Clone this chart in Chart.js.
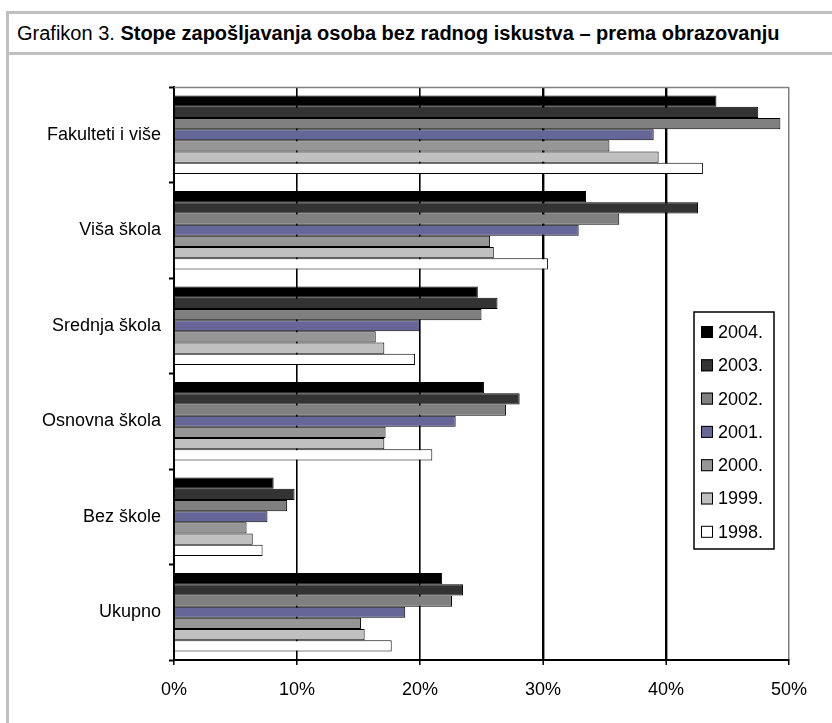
<!DOCTYPE html>
<html>
<head>
<meta charset="utf-8">
<script src="https://cdn.jsdelivr.net/npm/chart.js@4.4.0/dist/chart.umd.min.js"></script>
<style>
  html, body { margin: 0; padding: 0; background: #fff; }
  body { width: 832px; height: 723px; position: relative; overflow: hidden; }
  .line { position: absolute; background: #c0c0c0; }
  #title {
    position: absolute; left: 17px; top: 14px; height: 38px; line-height: 38px;
    font-family: "Liberation Sans", Arial, sans-serif; font-size: 20px; color: #000;
    white-space: nowrap;
  }
  #wrap { position: absolute; left: 0; top: 0; width: 832px; height: 723px; }
</style>
</head>
<body>
<div class="line" style="left:6px;top:11px;width:826px;height:3px"></div>
<div class="line" style="left:6px;top:11px;width:3px;height:712px"></div>
<div class="line" style="left:6px;top:52px;width:826px;height:3px"></div>
<div id="title">Grafikon 3. <b>Stope zapošljavanja osoba bez radnog iskustva – prema obrazovanju</b></div>
<div id="wrap"><canvas id="chart"></canvas></div>
<script>
// kategorije (odozgo prema dolje)
const categories = ["Fakulteti i više", "Viša škola", "Srednja škola", "Osnovna škola", "Bez škole", "Ukupno"];

// godine i boje serija
const years = ["2004.", "2003.", "2002.", "2001.", "2000.", "1999.", "1998."];
const colors = ["#000000", "#333333", "#808080", "#666699", "#969696", "#c0c0c0", "#ffffff"];

// stope u %, po godinama
const s2004 = [44.1, 33.5, 24.7, 25.2, 8.1, 21.8];
const s2003 = [47.5, 42.6, 26.3, 28.1, 9.8, 23.5];
const s2002 = [49.3, 36.2, 25.0, 27.0, 9.2, 22.6];
const s2001 = [39.0, 32.9, 20.0, 22.9, 7.6, 18.8];
const s2000 = [35.4, 25.7, 16.4, 17.2, 5.9, 15.2];
const s1999 = [39.4, 26.0, 17.1, 17.1, 6.4, 15.5];
const s1998 = [43.0, 30.4, 19.6, 21.0, 7.2, 17.7];

const series = [s2004, s2003, s2002, s2001, s2000, s1999, s1998];

// oznake na osi x
const xTicks = [0, 10, 20, 30, 40, 50];

const FONT = "'Liberation Sans', Arial, sans-serif";

// legenda unutar grafikona + gornji rub
const boxLegend = {
  id: "boxLegend",
  beforeDatasetsDraw(chart) {
    const { ctx, chartArea: a } = chart;
    ctx.save();
    ctx.strokeStyle = "#808080";
    ctx.lineWidth = 1.5;
    ctx.beginPath();
    ctx.moveTo(a.left, a.top + 0.5);
    ctx.lineTo(a.right, a.top + 0.5);
    ctx.stroke();
    ctx.restore();
  },
  afterDraw(chart) {
    const ctx = chart.ctx;
    const x = 694, y = 312, w = 80, h = 237;
    ctx.save();
    ctx.fillStyle = "#fff";
    ctx.fillRect(x, y, w, h);
    ctx.strokeStyle = "#000";
    ctx.lineWidth = 1.5;
    ctx.strokeRect(x, y, w, h);
    ctx.font = "18px " + FONT;
    ctx.textBaseline = "middle";
    chart.data.datasets.forEach((ds, i) => {
      const cy = y + 20 + i * 33.3;
      ctx.fillStyle = ds.backgroundColor;
      ctx.fillRect(701, cy - 6, 12, 12);
      ctx.strokeStyle = "#000";
      ctx.lineWidth = 1;
      ctx.strokeRect(701.5, cy - 5.5, 11, 11);
      ctx.fillStyle = "#000";
      ctx.fillText(ds.label, 718, cy + 1);
    });
    ctx.restore();
  },
};

const data = {
  labels: categories,
  datasets: years.map((y, i) => ({
    label: y,
    data: series[i],
    backgroundColor: colors[i],
    borderColor: "#000",
    borderWidth: 1,
    categoryPercentage: 0.823,
    barPercentage: 1,
  })),
};

const config = {
  type: "bar",
  data,
  plugins: [boxLegend],
  options: {
    indexAxis: "y",
    responsive: true,
    maintainAspectRatio: false,
    animation: false,
    layout: { padding: { left: 0, right: 43, top: 87, bottom: 0 } },
    scales: {
      x: {
        min: 0,
        max: 50,
        afterBuildTicks: (s) => { s.ticks = xTicks.map((v) => ({ value: v })); },
        afterFit: (s) => { s.height = 63; },
        border: { color: "#000", width: 2 },
        grid: {
          color: (c) => (c.tick && c.tick.value === 50 ? "#808080" : "#000"),
          lineWidth: (c) => {
            const v = c.tick ? c.tick.value : 0;
            if (v === 50) return 1.5;
            return v >= 30 ? 2.4 : 1.6;
          },
          tickColor: "#000",
          tickWidth: 1.5,
          tickLength: 5,
        },
        ticks: {
          color: "#000",
          font: { family: FONT, size: 18 },
          padding: 14,
          maxRotation: 0,
          callback: (v) => v + "%",
        },
      },
      y: {
        afterFit: (s) => { s.width = 174; },
        border: { color: "#000", width: 2 },
        grid: {
          drawOnChartArea: false,
          offset: true,
          color: "#000",
          tickColor: "#000",
          tickWidth: 2,
          tickLength: 5,
        },
        ticks: {
          color: "#000",
          font: { family: FONT, size: 18 },
          padding: 8,
        },
      },
    },
    plugins: {
      legend: { display: false },
      tooltip: { enabled: false },
    },
  },
};

const ctx = document.querySelector("#chart").getContext("2d");
const chart = new Chart(ctx, config);
</script>
</body>
</html>
